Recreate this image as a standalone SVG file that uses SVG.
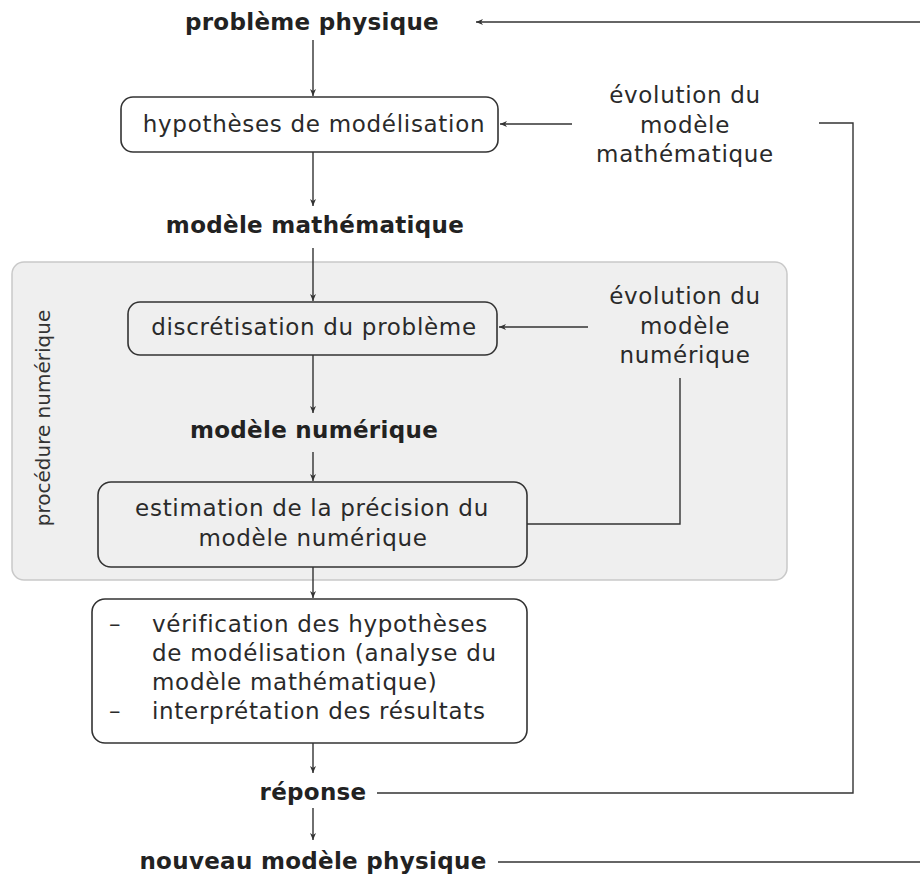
<svg xmlns="http://www.w3.org/2000/svg" width="920" height="878" viewBox="0 0 920 878">
  <style>
    .b { font-family: "DejaVu Sans", "Liberation Sans", sans-serif; font-weight: bold; font-size: 23px; fill: #222; letter-spacing: 0.3px; text-anchor: middle; }
    .r { font-family: "DejaVu Sans", "Liberation Sans", sans-serif; font-size: 23px; fill: #2a2a2a; letter-spacing: 0.7px; text-anchor: middle; }
    .l { text-anchor: start; }
    .box { stroke: #333; stroke-width: 1.6; }
    .w { fill: #ffffff; }
    .g { fill: #efefef; }
    .c { fill: none; stroke: #333; stroke-width: 1.4; }
    .a { fill: none; stroke: #333; stroke-width: 1.4; marker-end: url(#ah); }
  </style>
  <defs>
    <marker id="ah" viewBox="-8 -4 9 8" refX="0" refY="0" markerWidth="9" markerHeight="8" markerUnits="userSpaceOnUse" orient="auto">
      <path d="M0,0 L-7,-3 L-5,0 L-7,3 Z" fill="#333"/>
    </marker>
  </defs>
  <rect width="920" height="878" fill="#ffffff"/>

  <g id="panel">
    <rect x="12" y="262" width="775" height="318" rx="12" fill="#efefef" stroke="#c9c9c9" stroke-width="1.5"/>
    <text transform="translate(50,418) rotate(-90)" style="font-family: 'DejaVu Sans', sans-serif; font-size: 20px; fill: #333; text-anchor: middle;">procédure numérique</text>
  </g>

  <g id="connectors">
    <line class="a" x1="920" y1="22" x2="476" y2="22"/>
    <line class="a" x1="313" y1="40" x2="313" y2="96"/>
    <line class="a" x1="572" y1="124" x2="500" y2="124"/>
    <polyline class="c" points="819,123 853,123 853,793 377,793"/>
    <line class="a" x1="313" y1="152" x2="313" y2="206"/>
    <line class="a" x1="313" y1="248" x2="313" y2="301"/>
    <line class="a" x1="588" y1="327" x2="499" y2="327"/>
    <polyline class="c" points="680,378 680,524 527,524"/>
    <line class="a" x1="313" y1="355" x2="313" y2="413"/>
    <line class="a" x1="313" y1="452" x2="313" y2="481"/>
    <line class="a" x1="313" y1="567" x2="313" y2="598"/>
    <line class="a" x1="313" y1="743" x2="313" y2="773"/>
    <line class="a" x1="313" y1="808" x2="313" y2="840"/>
    <line class="c" x1="498" y1="862" x2="920" y2="862"/>
  </g>

  <g id="probleme-physique">
    <text class="b" x="312" y="30">problème physique</text>
  </g>

  <g id="hypotheses">
    <rect class="box w" x="121" y="97" width="377" height="55" rx="12"/>
    <text class="r" x="314" y="132">hypothèses de modélisation</text>
  </g>

  <g id="evolution-math">
    <text class="r" x="685" y="103">évolution du</text>
    <text class="r" x="685" y="133">modèle</text>
    <text class="r" x="685" y="162">mathématique</text>
  </g>

  <g id="modele-mathematique">
    <text class="b" x="315" y="233">modèle mathématique</text>
  </g>

  <g id="discretisation">
    <rect class="box g" x="128" y="302" width="369" height="53" rx="12"/>
    <text class="r" x="314" y="335">discrétisation du problème</text>
  </g>

  <g id="evolution-num">
    <text class="r" x="685" y="304">évolution du</text>
    <text class="r" x="685" y="334">modèle</text>
    <text class="r" x="685" y="363">numérique</text>
  </g>

  <g id="modele-numerique">
    <text class="b" x="314" y="438">modèle numérique</text>
  </g>

  <g id="estimation">
    <rect class="box g" x="98" y="482" width="429" height="85" rx="13"/>
    <text class="r" x="312" y="516">estimation de la précision du</text>
    <text class="r" x="313" y="546">modèle numérique</text>
  </g>

  <g id="verification">
    <rect class="box w" x="92" y="599" width="435" height="144" rx="13"/>
    <text class="r l" x="109" y="632">–</text>
    <text class="r l" x="152" y="632">vérification des hypothèses</text>
    <text class="r l" x="152" y="661">de modélisation (analyse du</text>
    <text class="r l" x="152" y="690">modèle mathématique)</text>
    <text class="r l" x="109" y="719">–</text>
    <text class="r l" x="152" y="719">interprétation des résultats</text>
  </g>

  <g id="reponse">
    <text class="b" x="313" y="800">réponse</text>
  </g>

  <g id="nouveau-modele">
    <text class="b" x="313" y="869">nouveau modèle physique</text>
  </g>
</svg>
